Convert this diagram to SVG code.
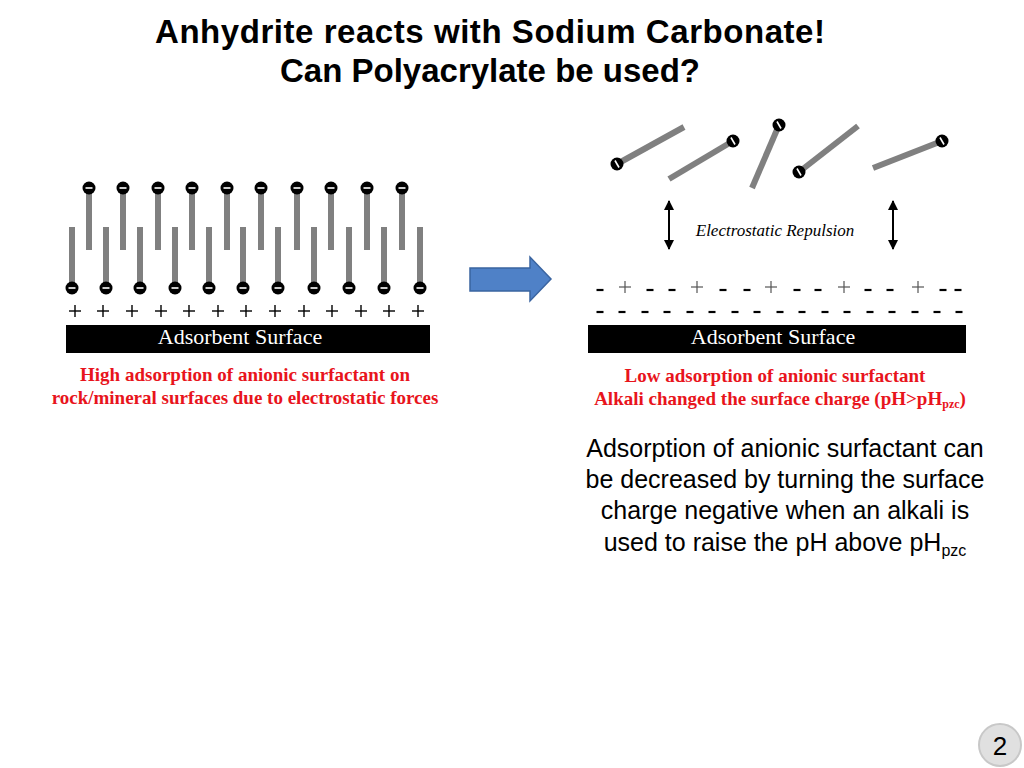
<svg xmlns="http://www.w3.org/2000/svg" width="1024" height="768" viewBox="0 0 1024 768">
<defs>
<style>
.t{font-family:"Liberation Sans",Arial,sans-serif}
.s{font-family:"Liberation Serif","Times New Roman",serif}
.stick{stroke:#808080;stroke-width:6}
.red{fill:#e8141c;font-weight:bold;font-size:19px}
.p{font-family:"Liberation Serif",serif;font-size:24px;text-anchor:middle}
.d{stroke:#000;stroke-width:2.2}
</style>
<g id="h"><circle r="6.5" fill="#000"/><line x1="-3.5" y1="0" x2="3.5" y2="0" stroke="#fff" stroke-width="1.6"/></g>
<g id="hr"><circle r="6.5" fill="#000"/><line x1="-2" y1="-3.5" x2="2" y2="3.5" stroke="#fff" stroke-width="1.6"/></g>
<g id="pl"><line x1="-6" y1="0" x2="6" y2="0" stroke="#000" stroke-width="1.4"/><line x1="0" y1="-6" x2="0" y2="6" stroke="#000" stroke-width="1.4"/></g>
<g id="pg"><line x1="-6" y1="0" x2="6" y2="0" stroke="#555" stroke-width="1.2"/><line x1="0" y1="-6" x2="0" y2="6" stroke="#555" stroke-width="1.2"/></g>
<g id="mn"><line x1="-3.5" y1="0" x2="3.5" y2="0" class="d"/></g>
<marker id="ah" viewBox="0 0 10 10" refX="9" refY="5" markerWidth="5" markerHeight="5" orient="auto-start-reverse"><path d="M0,0 L10,5 L0,10 Z" fill="#000"/></marker>
</defs>
<rect width="1024" height="768" fill="#fff"/>
<text class="t" x="490" y="43" text-anchor="middle" font-size="33" font-weight="bold" textLength="670">Anhydrite reacts with Sodium Carbonate!</text>
<text class="t" x="490" y="82" text-anchor="middle" font-size="33" font-weight="bold">Can Polyacrylate be used?</text>

<g id="left">
<g class="stick">
<line x1="89" y1="188" x2="89" y2="250"/><line x1="123" y1="188" x2="123" y2="250"/><line x1="158" y1="188" x2="158" y2="250"/><line x1="192" y1="188" x2="192" y2="250"/><line x1="227" y1="188" x2="227" y2="250"/><line x1="261" y1="188" x2="261" y2="250"/><line x1="297" y1="188" x2="297" y2="250"/><line x1="331" y1="188" x2="331" y2="250"/><line x1="367" y1="188" x2="367" y2="250"/><line x1="402" y1="188" x2="402" y2="250"/>
<line x1="72" y1="227" x2="72" y2="288"/><line x1="106" y1="227" x2="106" y2="288"/><line x1="140" y1="227" x2="140" y2="288"/><line x1="175" y1="227" x2="175" y2="288"/><line x1="209" y1="227" x2="209" y2="288"/><line x1="243" y1="227" x2="243" y2="288"/><line x1="278" y1="227" x2="278" y2="288"/><line x1="314" y1="227" x2="314" y2="288"/><line x1="349" y1="227" x2="349" y2="288"/><line x1="384" y1="227" x2="384" y2="288"/><line x1="420" y1="227" x2="420" y2="288"/>
</g>
<use href="#h" x="89" y="188"/><use href="#h" x="123" y="188"/><use href="#h" x="158" y="188"/><use href="#h" x="192" y="188"/><use href="#h" x="227" y="188"/><use href="#h" x="261" y="188"/><use href="#h" x="297" y="188"/><use href="#h" x="331" y="188"/><use href="#h" x="367" y="188"/><use href="#h" x="402" y="188"/>
<use href="#h" x="72" y="288"/><use href="#h" x="106" y="288"/><use href="#h" x="140" y="288"/><use href="#h" x="175" y="288"/><use href="#h" x="209" y="288"/><use href="#h" x="243" y="288"/><use href="#h" x="278" y="288"/><use href="#h" x="314" y="288"/><use href="#h" x="349" y="288"/><use href="#h" x="384" y="288"/><use href="#h" x="420" y="288"/>
<use href="#pl" x="75" y="311"/><use href="#pl" x="103" y="311"/><use href="#pl" x="132" y="311"/><use href="#pl" x="161" y="311"/><use href="#pl" x="189" y="311"/><use href="#pl" x="218" y="311"/><use href="#pl" x="246" y="311"/><use href="#pl" x="275" y="311"/><use href="#pl" x="304" y="311"/><use href="#pl" x="332" y="311"/><use href="#pl" x="361" y="311"/><use href="#pl" x="389" y="311"/><use href="#pl" x="418" y="311"/>
<rect x="66" y="325" width="364" height="28" fill="#000"/>
<text class="s" x="240" y="344" text-anchor="middle" font-size="22" fill="#fff">Adsorbent Surface</text>
<text class="s red" x="245" y="381" text-anchor="middle">High adsorption of anionic surfactant on</text>
<text class="s red" x="245" y="404" text-anchor="middle">rock/mineral surfaces due to electrostatic forces</text>
</g>

<g id="arrow">
<path d="M470,268 H530 V257 L551,279 L530,301 V291 H470 Z" fill="#4f81c7" stroke="#3a64a0" stroke-width="1.5"/>
</g>

<g id="right">
<g class="stick">
<line x1="617" y1="164" x2="684" y2="127"/><line x1="669" y1="179" x2="733" y2="141"/><line x1="779" y1="125" x2="752" y2="188"/><line x1="799" y1="172" x2="858" y2="126"/><line x1="873" y1="168" x2="942" y2="141"/>
</g>
<use href="#hr" x="617" y="164"/><use href="#hr" x="733" y="141"/><use href="#hr" x="779" y="125"/><use href="#hr" x="799" y="172"/><use href="#hr" x="942" y="141"/>
<line x1="669" y1="201" x2="669" y2="249" stroke="#000" stroke-width="2" marker-start="url(#ah)" marker-end="url(#ah)"/>
<line x1="893" y1="201" x2="893" y2="249" stroke="#000" stroke-width="2" marker-start="url(#ah)" marker-end="url(#ah)"/>
<text class="s" x="775" y="236" text-anchor="middle" font-size="17" font-style="italic">Electrostatic Repulsion</text>
<use href="#mn" x="600" y="290"/><use href="#pg" x="625" y="287"/><use href="#mn" x="650" y="290"/><use href="#mn" x="672" y="290"/><use href="#pg" x="697" y="287"/><use href="#mn" x="723" y="290"/><use href="#mn" x="747" y="290"/><use href="#pg" x="771" y="287"/><use href="#mn" x="797" y="290"/><use href="#mn" x="818" y="290"/><use href="#pg" x="844" y="287"/><use href="#mn" x="868" y="290"/><use href="#mn" x="890" y="290"/><use href="#pg" x="918" y="287"/><use href="#mn" x="943" y="290"/><use href="#mn" x="958" y="290"/>
<use href="#mn" x="600" y="312"/><use href="#mn" x="622" y="312"/><use href="#mn" x="645" y="312"/><use href="#mn" x="667" y="312"/><use href="#mn" x="690" y="312"/><use href="#mn" x="712" y="312"/><use href="#mn" x="735" y="312"/><use href="#mn" x="757" y="312"/><use href="#mn" x="780" y="312"/><use href="#mn" x="802" y="312"/><use href="#mn" x="825" y="312"/><use href="#mn" x="847" y="312"/><use href="#mn" x="870" y="312"/><use href="#mn" x="892" y="312"/><use href="#mn" x="915" y="312"/><use href="#mn" x="937" y="312"/><use href="#mn" x="959" y="312"/>
<rect x="588" y="325" width="378" height="28" fill="#000"/>
<text class="s" x="773" y="344" text-anchor="middle" font-size="22" fill="#fff">Adsorbent Surface</text>
<text class="s red" x="775" y="382" text-anchor="middle">Low adsorption of anionic surfactant</text>
<text class="s red" x="780" y="405" text-anchor="middle">Alkali changed the surface charge (pH&gt;pH<tspan font-size="12" dy="3">pzc</tspan><tspan dy="-3">)</tspan></text>
</g>

<g class="t" font-size="25" text-anchor="middle">
<text x="785" y="457">Adsorption of anionic surfactant can</text>
<text x="785" y="488">be decreased by turning the surface</text>
<text x="785" y="519">charge negative when an alkali is</text>
<text x="785" y="551">used to raise the pH above pH<tspan font-size="16" dy="5">pzc</tspan></text>
</g>

<g id="page">
<circle cx="1000" cy="745" r="21" fill="#e0e0e0" stroke="#c8c8c8" stroke-width="2"/>
<text class="t" x="1000" y="755" text-anchor="middle" font-size="26">2</text>
</g>
</svg>
